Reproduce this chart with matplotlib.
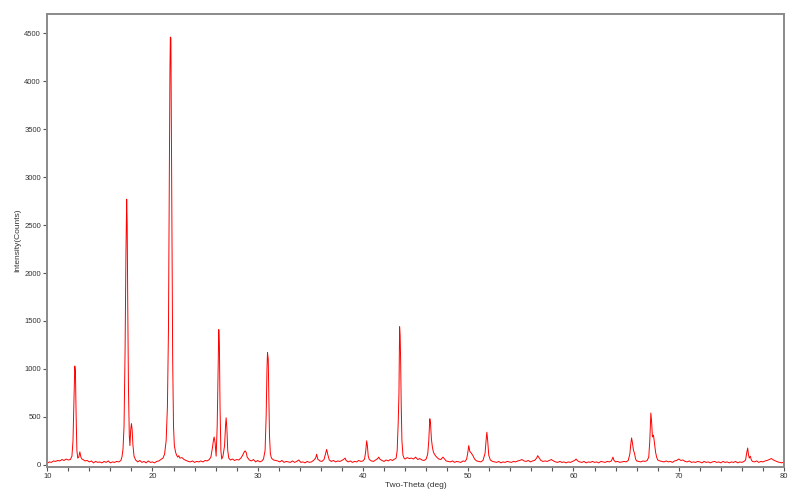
import matplotlib
matplotlib.use("Agg")
import matplotlib.pyplot as plt
from matplotlib.ticker import MultipleLocator
import numpy as np

# trace: (two-theta in deg, intensity in counts)
trace = [
    (10.0, 15), (10.2, 30), (10.4, 25), (10.6, 40), (10.8, 35), (11.0, 45), (11.2, 40), (11.4, 55),
    (11.6, 45), (11.8, 60), (12.0, 50), (12.2, 55), (12.35, 90),
    (12.45, 250), (12.55, 700), (12.62, 1030), (12.68, 980), (12.75, 500), (12.82, 150), (12.9, 70),
    (13.0, 80), (13.1, 135), (13.2, 80), (13.3, 60),
    (13.4, 55), (13.6, 40), (13.8, 45), (14.0, 30), (14.2, 40), (14.4, 20), (14.6, 35), (14.8, 25),
    (15.0, 30), (15.2, 20), (15.4, 35), (15.6, 25), (15.8, 40), (16.0, 20), (16.2, 30), (16.4, 25),
    (16.6, 35), (16.8, 30), (17.0, 45),
    (17.1, 80), (17.2, 160), (17.3, 400), (17.4, 1200), (17.48, 2200), (17.55, 2770), (17.6, 2500),
    (17.65, 1700), (17.72, 800), (17.8, 300), (17.86, 200), (17.93, 360), (18.0, 430), (18.06, 380),
    (18.15, 200), (18.25, 90), (18.4, 50),
    (18.6, 30), (18.8, 45), (19.0, 25), (19.2, 35), (19.4, 20), (19.6, 40), (19.8, 25), (20.0, 30),
    (20.2, 20), (20.4, 35), (20.6, 40), (20.8, 55), (21.0, 70),
    (21.15, 110), (21.3, 250), (21.42, 600), (21.52, 1400), (21.6, 2900), (21.66, 4100), (21.7, 4460),
    (21.75, 4450), (21.8, 3500), (21.86, 2300), (21.92, 1100), (22.0, 400), (22.08, 200), (22.2, 130),
    (22.3, 100), (22.4, 80), (22.5, 95), (22.6, 70), (22.8, 75), (23.0, 55), (23.2, 45), (23.4, 35),
    (23.6, 30), (23.8, 40), (24.0, 25), (24.2, 35), (24.4, 30), (24.6, 40), (24.8, 30), (25.0, 45),
    (25.2, 40), (25.4, 55), (25.55, 80),
    (25.7, 180), (25.8, 260), (25.86, 290), (25.95, 230), (26.05, 90), (26.15, 400), (26.22, 900),
    (26.3, 1410), (26.36, 1250), (26.42, 600), (26.5, 150), (26.58, 60), (26.7, 90), (26.85, 200),
    (26.95, 420), (27.0, 490), (27.07, 380), (27.15, 150), (27.25, 70), (27.4, 50),
    (27.6, 60), (27.8, 45), (28.0, 55), (28.2, 50), (28.4, 70), (28.55, 95), (28.7, 130), (28.8, 145),
    (28.9, 130), (29.0, 80), (29.2, 50), (29.4, 40), (29.6, 55), (29.8, 30), (30.0, 45), (30.2, 30),
    (30.4, 40), (30.55, 60), (30.7, 150),
    (30.8, 500), (30.88, 1000), (30.93, 1170), (31.0, 1100), (31.06, 700), (31.12, 300), (31.2, 120),
    (31.3, 70), (31.5, 50),
    (31.7, 45), (31.9, 40), (32.1, 30), (32.3, 45), (32.5, 25), (32.7, 35), (32.9, 30), (33.1, 25),
    (33.3, 40), (33.5, 25), (33.7, 35), (33.9, 50), (34.1, 25), (34.3, 30), (34.5, 20), (34.7, 35),
    (34.9, 25), (35.1, 30), (35.3, 45), (35.5, 70), (35.6, 110), (35.7, 60), (35.9, 40), (36.1, 35),
    (36.3, 55), (36.45, 120), (36.55, 160), (36.65, 110), (36.8, 50), (37.0, 35), (37.2, 45),
    (37.4, 30), (37.6, 40), (37.8, 35), (38.0, 45), (38.2, 60), (38.3, 70), (38.4, 45), (38.6, 30),
    (38.8, 40), (39.0, 25), (39.2, 35), (39.4, 30), (39.6, 45), (39.8, 35), (40.0, 40), (40.15, 60),
    (40.25, 130), (40.35, 250), (40.42, 200), (40.5, 90), (40.6, 55), (40.8, 40), (41.0, 35),
    (41.2, 50), (41.4, 65), (41.5, 80), (41.6, 60), (41.8, 45), (42.0, 35), (42.2, 50), (42.4, 40),
    (42.6, 55), (42.8, 45), (43.0, 60), (43.15, 70), (43.25, 150),
    (43.35, 450), (43.42, 750), (43.48, 1440), (43.53, 1350), (43.58, 1080), (43.63, 650),
    (43.7, 250), (43.8, 100), (43.9, 70),
    (44.0, 60), (44.2, 75), (44.4, 65), (44.6, 70), (44.8, 60), (45.0, 80), (45.2, 55), (45.4, 65),
    (45.6, 50), (45.8, 45), (46.0, 60), (46.15, 110), (46.25, 250), (46.35, 480), (46.42, 430),
    (46.5, 270), (46.6, 180), (46.7, 130), (46.85, 100), (47.0, 80), (47.2, 60), (47.4, 55),
    (47.6, 80), (47.75, 60), (47.9, 40), (48.1, 35), (48.3, 30), (48.5, 40), (48.7, 25), (48.9, 35),
    (49.1, 30), (49.3, 25), (49.5, 40), (49.7, 35), (49.85, 60), (49.95, 120), (50.05, 200),
    (50.15, 140), (50.3, 120), (50.45, 95), (50.6, 60), (50.8, 40), (51.0, 35), (51.2, 30),
    (51.4, 45), (51.6, 120), (51.7, 260), (51.77, 340), (51.85, 250), (51.95, 100), (52.1, 50),
    (52.3, 35), (52.5, 30), (52.7, 25), (52.9, 35), (53.1, 20), (53.3, 30), (53.5, 25), (53.7, 35),
    (53.9, 30), (54.1, 25), (54.3, 35), (54.5, 30), (54.7, 40), (54.9, 45), (55.1, 55), (55.3, 40),
    (55.5, 35), (55.7, 45), (55.9, 30), (56.1, 40), (56.3, 45), (56.5, 70), (56.6, 95), (56.75, 70),
    (56.9, 45), (57.1, 35), (57.3, 40), (57.5, 35), (57.7, 45), (57.9, 55), (58.1, 40), (58.3, 30),
    (58.5, 25), (58.7, 35), (58.9, 25), (59.1, 30), (59.3, 20), (59.5, 30), (59.7, 25), (59.9, 35),
    (60.1, 45), (60.25, 60), (60.4, 40), (60.6, 30), (60.8, 25), (61.0, 35), (61.2, 20), (61.4, 30),
    (61.6, 25), (61.8, 35), (62.0, 25), (62.2, 30), (62.4, 20), (62.6, 35), (62.8, 30), (63.0, 25),
    (63.2, 35), (63.4, 30), (63.6, 40), (63.75, 80), (63.85, 45), (64.0, 30), (64.2, 35), (64.4, 25),
    (64.6, 30), (64.8, 35), (65.0, 30), (65.2, 45), (65.35, 110), (65.45, 220), (65.52, 280),
    (65.6, 230), (65.7, 150), (65.8, 120), (65.9, 60), (66.0, 40), (66.2, 35), (66.4, 30), (66.6, 40),
    (66.8, 35), (67.0, 45), (67.15, 80), (67.25, 250), (67.35, 540), (67.42, 450), (67.5, 290),
    (67.6, 310), (67.7, 220), (67.8, 130), (67.9, 80), (68.0, 50), (68.2, 40), (68.4, 35), (68.6, 30),
    (68.8, 40), (69.0, 30), (69.2, 35), (69.4, 25), (69.6, 40), (69.8, 45), (70.0, 60), (70.2, 45),
    (70.4, 50), (70.6, 35), (70.8, 30), (71.0, 40), (71.2, 25), (71.4, 30), (71.6, 25), (71.8, 35),
    (72.0, 30), (72.2, 20), (72.4, 35), (72.6, 25), (72.8, 30), (73.0, 20), (73.2, 30), (73.4, 35),
    (73.6, 25), (73.8, 30), (74.0, 20), (74.2, 35), (74.4, 25), (74.6, 30), (74.8, 20), (75.0, 30),
    (75.2, 25), (75.4, 35), (75.6, 20), (75.8, 30), (76.0, 25), (76.2, 35), (76.35, 50),
    (76.45, 120), (76.55, 175), (76.62, 110), (76.7, 70), (76.8, 90), (76.9, 50), (77.0, 35),
    (77.2, 30), (77.4, 40), (77.6, 25), (77.8, 35), (78.0, 30), (78.2, 40), (78.4, 45), (78.6, 55),
    (78.8, 65), (79.0, 50), (79.2, 40), (79.4, 30), (79.6, 25), (79.8, 20), (80.0, 30),
]
two_theta = np.array([p[0] for p in trace])
counts = np.array([p[1] for p in trace])

x_ticks = [10, 20, 30, 40, 50, 60, 70, 80]
y_ticks = [0, 500, 1000, 1500, 2000, 2500, 3000, 3500, 4000, 4500]

plt.rcParams['font.family'] = ['Liberation Sans', 'DejaVu Sans']

fig = plt.figure(figsize=(8, 5.04), dpi=100)
ax = fig.add_axes([0.059, 0.074, 0.921, 0.898])

ax.plot(two_theta, counts, color="#ff0000", lw=0.7)

ax.set_xlim(10, 80)
ax.set_ylim(-20, 4700)
ax.set_xticks(x_ticks)
ax.xaxis.set_minor_locator(MultipleLocator(2))
ax.set_yticks(y_ticks)

for s in ax.spines.values():
    s.set_color("#8a8a8a")
    s.set_linewidth(1.4)

ax.tick_params(axis="both", which="major", labelsize=5.5, colors="#555555",
               labelcolor="#333333", length=3, width=0.8, pad=1.5)
ax.tick_params(axis="x", which="minor", colors="#555555", length=3, width=0.8)

ax.set_xlabel("Two-Theta (deg)", fontsize=6, color="#333333", labelpad=1.5)
ax.set_ylabel("Intensity(Counts)", fontsize=6, color="#333333", labelpad=2)

fig.savefig("out.png", dpi=100, facecolor="white")
